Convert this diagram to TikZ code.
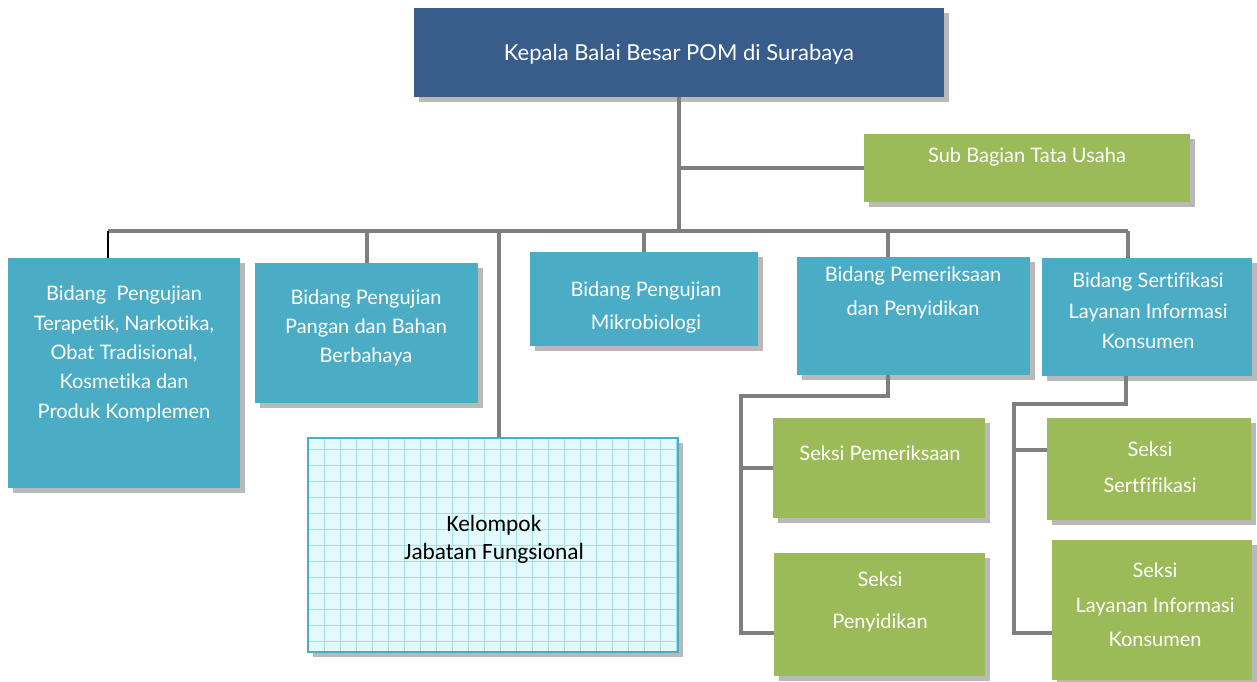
\documentclass[tikz,border=0pt]{standalone}
\usepackage{fontspec}
\setmainfont{Lato}[Ligatures=NoCommon]
\newfontfamily\calibri{Carlito}
\usetikzlibrary{positioning}
\usetikzlibrary{fit}
\usetikzlibrary{calc}
\usetikzlibrary{shadows}
\definecolor{headblue}{RGB}{56,93,138}
\definecolor{bidblue}{RGB}{75,172,198}
\definecolor{seksgreen}{RGB}{155,187,89}
\definecolor{linkgray}{RGB}{127,127,127}
\definecolor{gridfill}{RGB}{228,249,251}
\definecolor{gridline}{RGB}{160,224,232}
\tikzset{
    box/.style = {rectangle, inner sep=0pt, draw=none,
        drop shadow={shadow xshift=4pt, shadow yshift=-4pt, fill=black!50, opacity=0.55}},
    headbox/.style = {box, fill=headblue},
    bidbox/.style = {box, fill=bidblue},
    seksbox/.style = {box, fill=seksgreen},
    fungbox/.style = {box, fill=gridfill, draw=bidblue, line width=1.2pt,
        path picture={\draw[draw=gridline, line width=0.7pt, step=12pt]
            (path picture bounding box.south west) grid (path picture bounding box.north east);}},
    lbl/.style = {text=white, align=center, inner sep=0pt, font=\fontsize{15}{22}\selectfont},
    fungtxt/.style = {text=black, align=center, inner sep=0pt, font=\calibri\fontsize{17.5}{21}\selectfont},
    link/.style = {draw=linkgray, line width=3pt},
    linkb/.style = {draw=black, line width=1.5pt},
}

\begin{document}
\begin{tikzpicture}[x=0.75pt, y=-0.75pt]
\useasboundingbox (0,0) rectangle (1257,682);
% boxes
\node[headbox, fit={(414,8) (944,97)}] (kepala) {};
\node[seksbox, fit={(864,134) (1190,202)}] (tu) {};
\node[bidbox, fit={(8,258) (240,488)}] (b1) {};
\node[bidbox, fit={(255,263) (478,403)}] (b2) {};
\node[bidbox, fit={(530,252) (758,346)}] (b3) {};
\node[bidbox, fit={(797,257) (1030,375)}] (b4) {};
\node[bidbox, fit={(1042,258) (1252,376)}] (b5) {};
\node[fungbox, fit={(308,438) (678,652)}] (fung) {};
\node[seksbox, fit={(773,418) (985,518)}] (s1) {};
\node[seksbox, fit={(774,553) (985,676)}] (s2) {};
\node[seksbox, fit={(1047,418) (1251,520)}] (s3) {};
\node[seksbox, fit={(1052,540) (1252,680)}] (s4) {};
%
\node[lbl, font=\fontsize{16.5}{18}\selectfont] at (679,54) (tk) {Kepala Balai Besar POM di Surabaya};
\node[lbl] at (1027,157) (ttu) {Sub Bagian Tata Usaha};
\node[lbl] at (124,354) (tb1) {Bidang~ Pengujian\\Terapetik, Narkotika,\\Obat Tradisional,\\Kosmetika dan\\Produk Komplemen};
\node[lbl] at (366,328) (tb2) {Bidang Pengujian\\Pangan dan Bahan\\Berbahaya};
\node[lbl, font=\fontsize{15}{24.75}\selectfont] at (646,307) (tb3) {Bidang Pengujian\\Mikrobiologi};
\node[lbl, font=\fontsize{15}{25.5}\selectfont] at (913,293) (tb4) {Bidang Pemeriksaan\\dan Penyidikan};
\node[lbl, font=\fontsize{15}{23}\selectfont] at (1148,311) (tb5) {Bidang Sertifikasi\\Layanan Informasi\\Konsumen};
\node[fungtxt] at (494,539) (tf) {Kelompok\\Jabatan Fungsional};
\node[lbl] at (880,453) (ts1) {Seksi Pemeriksaan};
\node[lbl, font=\fontsize{15}{31.5}\selectfont] at (880,602) (ts2) {Seksi\\Penyidikan};
\node[lbl, font=\fontsize{15}{27}\selectfont] at (1150,467) (ts3) {Seksi\\Sertfifikasi};
\node[lbl, font=\fontsize{15}{26}\selectfont] at (1155,605) (ts4) {Seksi\\Layanan Informasi\\Konsumen};
%
\coordinate (busL) at (108,231);
\coordinate (df) at ($(fung.north west)!0.516!(fung.north east)$);
\coordinate (d4) at ($(b4.north west)!0.39!(b4.north east)$);
\coordinate (d5) at ($(b5.north west)!0.41!(b5.north east)$);
\coordinate (u4) at ($(b4.south west)!0.39!(b4.south east)$);
\coordinate (u5) at ($(b5.south west)!0.4!(b5.south east)$);
\coordinate (e4) at (741,396);
\coordinate (e5) at (1014,404);
\coordinate (s2in) at ([yshift=-14pt]s2.west);
\coordinate (s3in) at ([yshift=14pt]s3.west);
\coordinate (s4in) at ([yshift=-17pt]s4.west);
%
\draw[link] (kepala.south) -- (kepala.south |- busL);
\draw[link] (tu.west) -- (tu.west -| kepala.south);
\draw[link] (busL) -- (busL -| d5);
\draw[linkb] (busL) -- (busL |- b1.north);
\draw[link] (b2.north |- busL) -- (b2.north);
\draw[link] (b3.north |- busL) -- (b3.north);
\draw[link] (df |- busL) -- (df);
\draw[link] (d4 |- busL) -- (d4);
\draw[link] (d5 |- busL) -- (d5);
%
\draw[link] (u4) |- (e4) |- (s2in);
\draw[link] (e4 |- s1.west) -- (s1.west);
\draw[link] (u5) |- (e5) |- (s4in);
\draw[link] (e5 |- s3in) -- (s3in);
\end{tikzpicture}
\end{document}
